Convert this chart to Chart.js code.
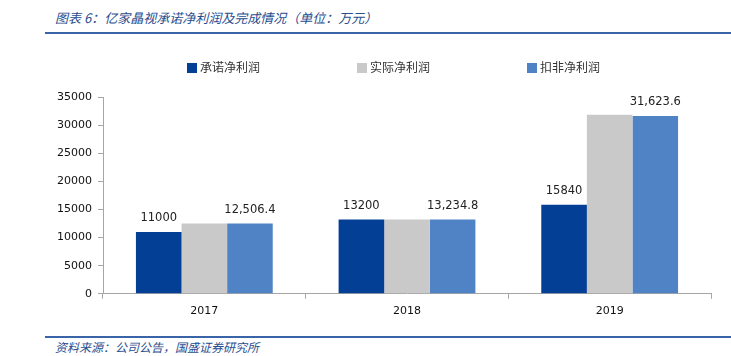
<!DOCTYPE html>
<html><head><meta charset="utf-8">
<script src="https://cdn.jsdelivr.net/npm/chart.js@4/dist/chart.umd.min.js"></script>
<style>
html,body{margin:0;padding:0;background:#fff;width:731px;height:356px;overflow:hidden;position:relative;font-family:"Noto Sans CJK SC",sans-serif;}
#title{position:absolute;left:55px;top:8px;font-size:13px;font-style:italic;color:#2a4d8f;white-space:nowrap;}
#line1{position:absolute;left:45px;top:32px;width:686px;height:2px;background:#3a64a8;}
#line2{position:absolute;left:45px;top:336px;width:686px;height:2px;background:#3a64a8;}
#src{position:absolute;left:55px;top:338px;font-size:12px;font-style:italic;color:#2a4d8f;white-space:nowrap;}
#wrap{position:absolute;left:0;top:45px;width:731px;height:280px;}
.lg{position:absolute;top:58px;font-size:12px;color:#333;white-space:nowrap;line-height:18px;}
.lg i{display:inline-block;width:10px;height:10px;margin-right:3px;vertical-align:-1px;}
</style></head><body>
<div id="title">图表 6：亿家晶视承诺净利润及完成情况（单位：万元）</div>
<div id="line1"></div>
<div id="wrap"><canvas id="c" width="731" height="280"></canvas></div>
<div id="legend"></div>
<div id="line2"></div>
<div id="src">资料来源：公司公告，国盛证券研究所</div>
<script>
const categories = ["2017","2018","2019"];
const seriesNames = ["承诺净利润","实际净利润","扣非净利润"];
const promised = [11000, 13200, 15840];
const actual = [12506.4, 13234.8, 31850];
const deducted = [12506.4, 13234.8, 31623.6];
const promisedLabels = ["11000","13200","15840"];
const deductedLabels = ["12,506.4","13,234.8","31,623.6"];
const yTicks = [0,5000,10000,15000,20000,25000,30000,35000];
const colors = ['#033f95','#c9c9c9','#4f83c6'];

const legendX = [187,357,527];
const lg = document.getElementById('legend');
seriesNames.forEach((n,i)=>{
  const d = document.createElement('div');
  d.className='lg'; d.style.left = legendX[i]+'px';
  d.innerHTML = '<i style="background:'+colors[i]+'"></i>'+n;
  lg.appendChild(d);
});

const labelPlugin = {
  id:'vals',
  afterDatasetsDraw(chart){
    const ctx = chart.ctx;
    ctx.save();
    ctx.font = '11.5px "DejaVu Sans", Verdana, sans-serif';
    ctx.fillStyle = '#222';
    ctx.textAlign = 'center';
    ctx.textBaseline = 'bottom';
    const sets = [[0,promisedLabels],[2,deductedLabels]];
    sets.forEach(([di,labels])=>{
      chart.getDatasetMeta(di).data.forEach((bar,i)=>{
        ctx.fillText(labels[i], bar.x, bar.y - 8);
      });
    });
    ctx.restore();
  }
};

new Chart(document.getElementById('c'), {
  type:'bar',
  data:{
    labels: categories,
    datasets:[
      {label:seriesNames[0], data:promised, backgroundColor:colors[0]},
      {label:seriesNames[1], data:actual, backgroundColor:colors[1]},
      {label:seriesNames[2], data:deducted, backgroundColor:colors[2]}
    ]
  },
  options:{
    responsive:false,
    animation:false,
    devicePixelRatio:1,
    layout:{padding:{left:0,right:20,top:52,bottom:1}},
    datasets:{bar:{categoryPercentage:0.675, barPercentage:1.0}},
    plugins:{
      legend:{display:false},
      tooltip:{enabled:false}
    },
    scales:{
      x:{
        grid:{display:true, drawOnChartArea:false, drawTicks:true, tickLength:5, color:'#a6a6a6'},
        border:{color:'#a6a6a6'},
        ticks:{font:{family:'"DejaVu Sans"', size:11}, color:'#111', padding:6}
      },
      y:{
        min:0, max:35000,
        afterBuildTicks(s){ s.ticks = yTicks.map(v=>({value:v})); },
        afterFit(s){ s.width = 103; },
        grid:{display:true, drawOnChartArea:false, drawTicks:true, tickLength:5, color:'#a6a6a6'},
        border:{color:'#a6a6a6'},
        ticks:{font:{family:'"DejaVu Sans"', size:11}, color:'#111', padding:6, callback:v=>String(v)}
      }
    }
  },
  plugins:[labelPlugin]
});
</script>
</body></html>
